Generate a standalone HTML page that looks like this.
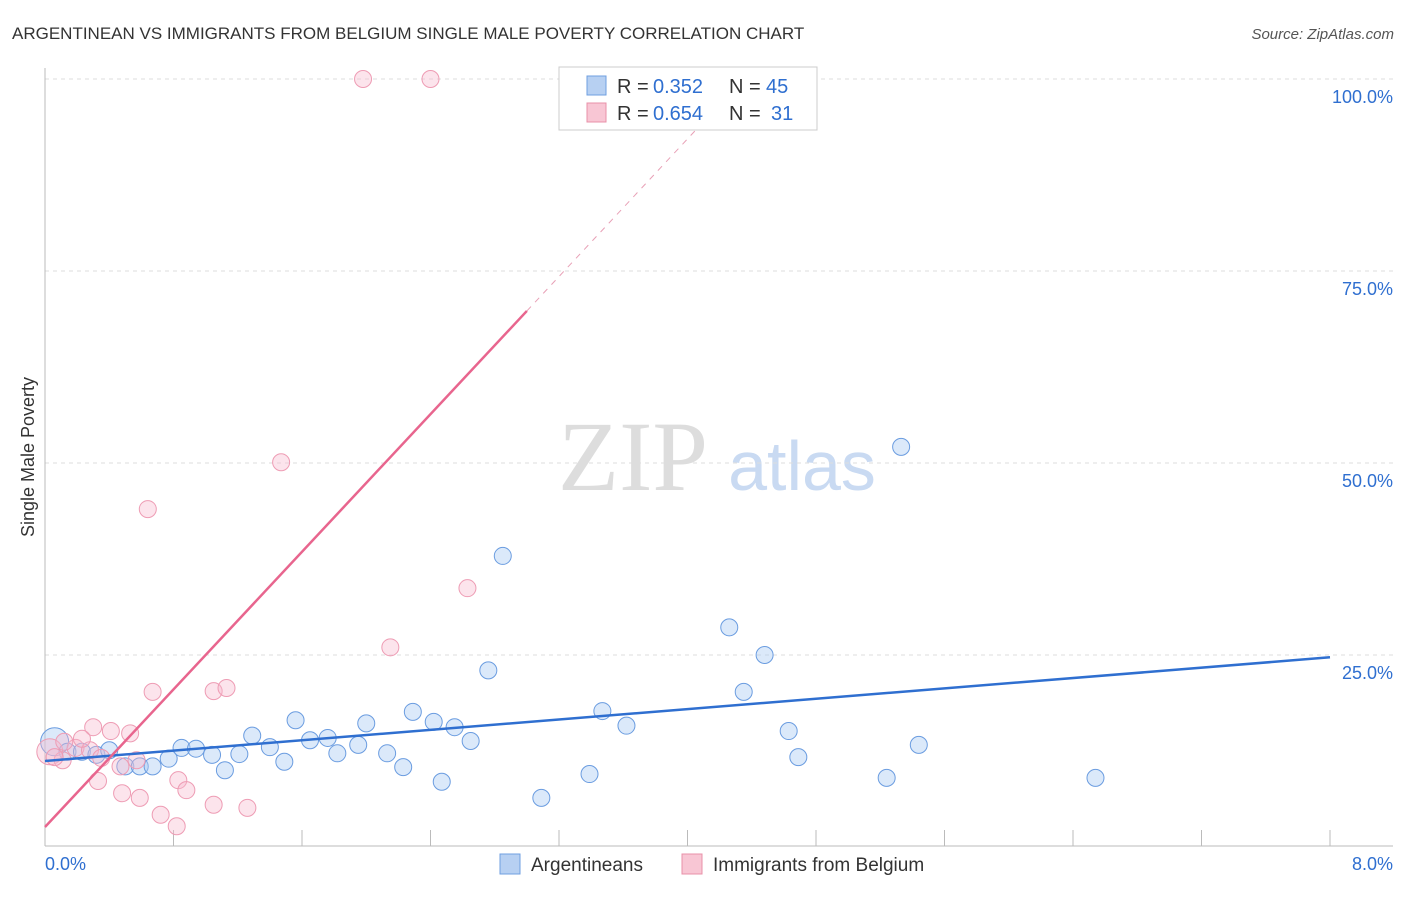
<!DOCTYPE html>
<html><head><meta charset="utf-8"><style>
body{margin:0;background:#fff;font-family:"Liberation Sans",sans-serif}
</style></head><body>
<svg id="c" width="1406" height="892" font-family="Liberation Sans, sans-serif">
<text x="12" y="39" font-size="17" fill="#333">ARGENTINEAN VS IMMIGRANTS FROM BELGIUM SINGLE MALE POVERTY CORRELATION CHART</text>
<text x="1394" y="39" font-size="15" fill="#555" text-anchor="end" font-style="italic">Source: ZipAtlas.com</text>
<text x="633" y="490" font-size="100" fill="#ddd" style="font-family:'Liberation Serif',serif" text-anchor="middle">ZIP</text>
<text x="802" y="490" font-size="70" fill="#c9daf2" text-anchor="middle">atlas</text>
<text x="34" y="457" font-size="18" fill="#333" text-anchor="middle" transform="rotate(-90 34 457)">Single Male Poverty</text>
<g id="grid"></g><g id="pts"></g><g id="lines"></g>
<g>
<rect x="559" y="67" width="258" height="63" fill="#fff" stroke="#ccc"/>
<rect x="587" y="76" width="19" height="19" fill="#b7d0f2" stroke="#6f9fe0"/>
<text x="617" y="93" font-size="20" fill="#333">R =</text>
<text x="653" y="93" font-size="20" fill="#2f6fd0">0.352</text>
<text x="729" y="93" font-size="20" fill="#333">N =</text>
<text x="766" y="93" font-size="20" fill="#2f6fd0">45</text>
<rect x="587" y="103" width="19" height="19" fill="#f8c6d4" stroke="#e890a8"/>
<text x="617" y="120" font-size="20" fill="#333">R =</text>
<text x="653" y="120" font-size="20" fill="#2f6fd0">0.654</text>
<text x="729" y="120" font-size="20" fill="#333">N =</text>
<text x="771" y="120" font-size="20" fill="#2f6fd0">31</text>
</g>
<g>
<rect x="500" y="854" width="20" height="20" fill="#b7d0f2" stroke="#6f9fe0"/>
<text x="531" y="871" font-size="19" fill="#333">Argentineans</text>
<rect x="682" y="854" width="20" height="20" fill="#f8c6d4" stroke="#e890a8"/>
<text x="713" y="871" font-size="19" fill="#333">Immigrants from Belgium</text>
</g>
</svg>
<script>
const blueX=[0.06,0.14,0.23,0.32,0.40,0.50,0.59,0.67,0.77,0.85,0.94,1.04,1.12,1.21,1.29,1.40,1.49,1.56,1.65,1.76,1.82,1.95,2.00,2.13,2.23,2.29,2.42,2.47,2.55,2.65,2.76,2.85,3.09,3.39,3.47,3.62,4.26,4.35,4.48,4.63,4.69,5.24,5.33,5.44,6.54];
const blueY=[13.7,12.4,12.4,12.0,12.6,10.5,10.5,10.5,11.5,12.9,12.8,12.0,10.0,12.1,14.5,13.0,11.1,16.5,13.9,14.2,12.2,13.3,16.1,12.2,10.4,17.6,16.3,8.5,15.6,13.8,23.0,37.9,6.4,9.5,17.7,15.8,28.6,20.2,25.0,15.1,11.7,9.0,52.1,13.3,9.0];
const pinkX=[0.03,0.11,0.19,0.28,0.30,0.35,0.41,0.47,0.48,0.53,0.59,0.57,0.64,0.67,0.72,0.82,0.83,0.88,1.05,1.05,1.13,1.26,1.47,1.98,2.15,2.40,2.63,0.33,0.23,0.12,0.06];
const pinkY=[12.4,11.3,12.9,12.6,15.6,11.6,15.1,10.5,7.0,14.8,6.4,11.3,44.0,20.2,4.2,2.7,8.7,7.4,20.3,5.5,20.7,5.1,50.1,100,26.0,100,33.7,8.6,14.1,13.7,11.7];
const yTicks=[25,50,75,100];
const blueLine=[11.2,24.7];
const pinkLine=[2.6,22.4];
const NS="http://www.w3.org/2000/svg";
const X=v=>45+v/8*1285, Y=v=>847-v*7.68;
function mk(p,t,a){const e=document.createElementNS(NS,t);for(const k in a)e.setAttribute(k,a[k]);p.appendChild(e);return e;}
const g=document.getElementById('grid');
yTicks.forEach(t=>{
 const l=mk(g,'line',{x1:45,x2:1393,y1:Y(t),y2:Y(t),stroke:'#ddd','stroke-dasharray':'4,4'});
 
 
 const tx=mk(g,'text',{x:1393,y:Y(t)+24,'font-size':18,fill:'#2f6fd0','text-anchor':'end'});tx.textContent=t.toFixed(1)+'%';
 
 
});
mk(g,'line',{x1:45,x2:45,y1:68,y2:846,stroke:'#bbb'});
mk(g,'line',{x1:45,x2:1393,y1:846,y2:846,stroke:'#bbb'});
for(let i=1;i<=10;i++){const t=mk(g,'line',{x1:X(i*0.8),x2:X(i*0.8),y1:830,y2:846,stroke:'#bbb'});
 
 }
[[0,'0.0%','start',45],[8,'8.0%','end',1393]].forEach(d=>{const t=mk(g,'text',{x:d[3],y:870,'font-size':18,fill:'#2f6fd0','text-anchor':d[2]});t.textContent=d[1];
 
 });
const p=document.getElementById('pts');
blueX.forEach((x,i)=>{const c=mk(p,'circle',{cx:X(x),cy:Y(blueY[i]),r:i==0?14:8.5,fill:'rgba(170,202,242,0.42)',stroke:'#6a9ce0','stroke-width':1});
 
 });
pinkX.forEach((x,i)=>{const c=mk(p,'circle',{cx:X(x),cy:Y(pinkY[i]),r:i==0?13:8.5,fill:'rgba(246,185,204,0.38)',stroke:'#ee9cb4','stroke-width':1});
 
 });
const L=document.getElementById('lines');
const bl=mk(L,'line',{x1:X(0),y1:Y(blueLine[0]),x2:X(8),y2:Y(blueLine[1]),stroke:'#2f6fd0','stroke-width':2.5});


const pf=x=>pinkLine[0]+pinkLine[1]*x;
const pl=mk(L,'line',{x1:X(0),y1:Y(pf(0)),x2:X(3.0),y2:Y(pf(3.0)),stroke:'#e8658e','stroke-width':2.5});


const pd=mk(L,'line',{x1:X(3.0),y1:Y(pf(3.0)),x2:X(4.2),y2:Y(pf(4.2)),stroke:'#e8a0b6','stroke-width':1,'stroke-dasharray':'6,6'});


</script>
</body></html>
